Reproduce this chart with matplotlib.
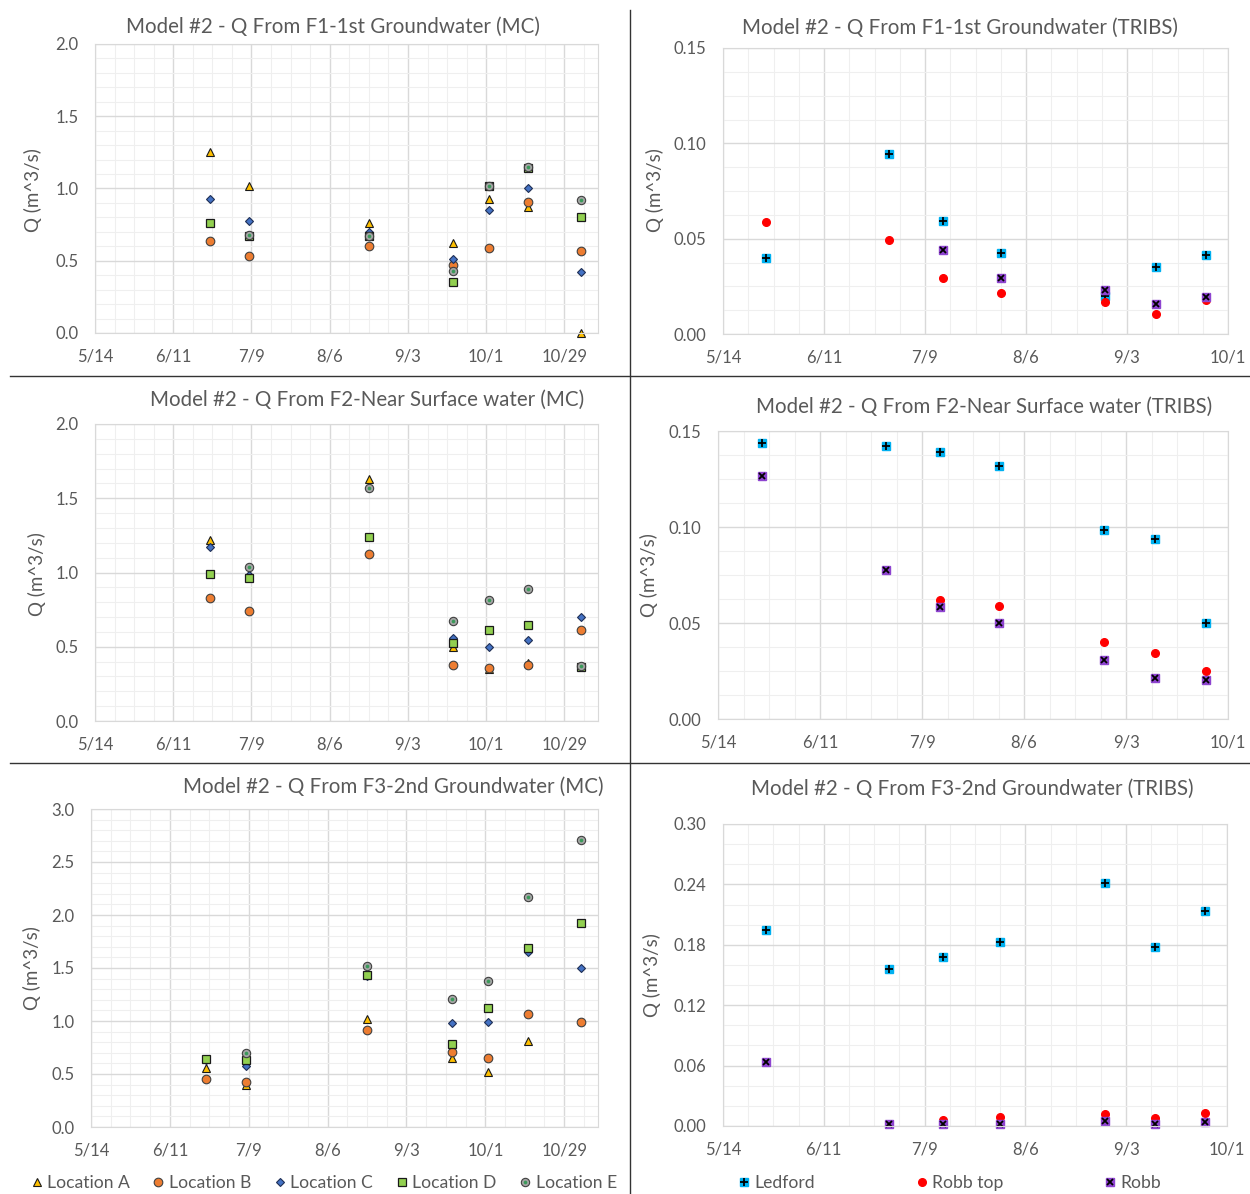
import numpy as np
import matplotlib
matplotlib.use("Agg")
import matplotlib.pyplot as plt
import matplotlib.dates as mdates
from matplotlib.lines import Line2D
from matplotlib.legend_handler import HandlerTuple
from datetime import date, timedelta

plt.rcParams['font.family'] = ['Lato', 'DejaVu Sans']

W, H = 1250, 1194
nan = np.nan

# sample dates (year is arbitrary)
mc_dates = [date(2021, 6, 24), date(2021, 7, 8), date(2021, 8, 20), date(2021, 9, 19),
            date(2021, 10, 2), date(2021, 10, 16), date(2021, 11, 4)]
tr_dates = [date(2021, 5, 26), date(2021, 6, 29), date(2021, 7, 14), date(2021, 7, 30),
            date(2021, 8, 28), date(2021, 9, 11), date(2021, 9, 25)]

mc_names = ['Location A', 'Location B', 'Location C', 'Location D', 'Location E']
tr_names = ['Ledford', 'Robb top', 'Robb']

# F1 - 1st groundwater (MC)
f1_mc_A = [1.25, 1.02, 0.76, 0.62, 0.93, 0.875, 0.0]
f1_mc_B = [0.64, 0.535, 0.605, 0.47, 0.59, 0.91, 0.567]
f1_mc_C = [0.93, 0.775, 0.70, 0.51, 0.85, 1.005, 0.42]
f1_mc_D = [0.76, 0.67, 0.67, 0.35, 1.015, 1.145, 0.80]
f1_mc_E = [nan, 0.675, 0.67, 0.43, 1.02, 1.15, 0.92]
# F2 - near surface water (MC)
f2_mc_A = [1.22, 0.99, 1.63, 0.50, 0.35, 0.39, nan]
f2_mc_B = [0.828, 0.742, 1.124, 0.374, 0.354, 0.374, 0.61]
f2_mc_C = [1.173, 0.98, 1.57, 0.558, 0.50, 0.547, 0.702]
f2_mc_D = [0.99, 0.96, 1.242, 0.525, 0.61, 0.648, 0.367]
f2_mc_E = [nan, 1.04, 1.568, 0.673, 0.812, 0.89, 0.37]
# F3 - 2nd groundwater (MC)
f3_mc_A = [0.555, 0.40, 1.02, 0.65, 0.523, 0.815, nan]
f3_mc_B = [0.451, 0.42, 0.913, 0.704, 0.647, 1.07, 0.99]
f3_mc_C = [0.63, 0.578, 1.42, 0.98, 0.99, 1.655, 1.498]
f3_mc_D = [0.641, 0.628, 1.434, 0.78, 1.123, 1.688, 1.929]
f3_mc_E = [nan, 0.698, 1.522, 1.212, 1.377, 2.17, 2.709]

# TRIBS
f1_tr_ledford = [0.040, 0.0942, 0.0595, 0.0423, 0.0198, 0.0353, 0.0412]
f1_tr_robbtop = [0.0587, 0.0491, 0.0296, 0.0216, 0.0166, 0.0107, 0.0179]
f1_tr_robb = [nan, nan, 0.0442, 0.0296, 0.0233, 0.0156, 0.0193]

f2_tr_ledford = [0.1438, 0.142, 0.1389, 0.1316, 0.0985, 0.0938, 0.0498]
f2_tr_robbtop = [nan, nan, 0.0618, 0.0586, 0.040, 0.0345, 0.0251]
f2_tr_robb = [0.1268, 0.0774, 0.0581, 0.0498, 0.0305, 0.0215, 0.0203]

f3_tr_ledford = [0.195, 0.1556, 0.1675, 0.183, 0.241, 0.1775, 0.2133]
f3_tr_robbtop = [nan, nan, 0.0057, 0.0087, 0.0123, 0.008, 0.013]
f3_tr_robb = [0.0634, 0.0024, 0.0024, 0.0024, 0.005, 0.0024, 0.0037]

GRAY = '#595959'


def rect(l, r, t, b):
    return [l / W, 1 - b / H, (r - l) / W, (b - t) / H]


def style_ax(ax, xmin, xmax, ymax, ymaj, ymin_step, yfmt):
    ax.set_xlim(mdates.date2num(xmin), mdates.date2num(xmax))
    ax.set_ylim(0, ymax)
    ticks = [xmin + timedelta(days=28 * i) for i in range(10) if xmin + timedelta(days=28 * i) <= xmax]
    ax.set_xticks([mdates.date2num(d) for d in ticks])
    ax.set_xticklabels([f"{d.month}/{d.day}" for d in ticks])
    mins = [xmin + timedelta(days=7 * i) for i in range(40) if xmin + timedelta(days=7 * i) <= xmax]
    ax.set_xticks([mdates.date2num(d) for d in mins], minor=True)
    ax.set_yticks(np.arange(0, ymax + 1e-9, ymaj))
    ax.set_yticks(np.arange(0, ymax + 1e-9, ymin_step), minor=True)
    ax.yaxis.set_major_formatter(plt.FormatStrFormatter(yfmt))
    ax.grid(which='major', color='#D9D9D9', lw=1.0)
    ax.grid(which='minor', color='#EFEFEF', lw=0.8)
    ax.set_axisbelow(True)
    for s in ax.spines.values():
        s.set_color('#D9D9D9')
    ax.tick_params(which='both', length=0, colors=GRAY, labelsize=12)
    ax.tick_params(axis='x', pad=11)
    ax.tick_params(axis='y', pad=12)


def mc_panel(ax, A, B, C, D, E):
    x = mdates.date2num(mc_dates)
    kw = dict(ls='none', clip_on=False)
    hs = []
    hs.append(ax.plot(x, A, marker='^', ms=5.6, mfc='#FFC000', mec='#1a1a1a', mew=0.8, **kw)[0])
    hs.append(ax.plot(x, B, marker='o', ms=6.2, mfc='#ED7D31', mec='#404040', mew=0.8, **kw)[0])
    hs.append(ax.plot(x, C, marker='D', ms=4.2, mfc='#4472C4', mec='#1f2f55', mew=0.8, **kw)[0])
    hs.append(ax.plot(x, D, marker='s', ms=6.0, mfc='#92D050', mec='#1a1a1a', mew=0.9, **kw)[0])
    e1 = ax.plot(x, E, marker='o', ms=6.0, mfc='#A5A5A5', mec='#404040', mew=0.8, **kw)[0]
    e2 = ax.plot(x, E, marker='o', ms=2.6, mfc='#3A9A5A', mec='none', **kw)[0]
    hs.append((e1, e2))
    return hs


def tr_panel(ax, led, rtop, robb):
    x = mdates.date2num(tr_dates)
    kw = dict(ls='none', clip_on=False)
    l1 = ax.plot(x, led, marker='s', ms=5.5, mfc='#00B0F0', mec='#00B0F0', **kw)[0]
    l2 = ax.plot(x, led, marker='+', ms=5.5, mec='black', mew=1.3, **kw)[0]
    r = ax.plot(x, rtop, marker='o', ms=5.5, mfc='#FF0000', mec='#FF0000', **kw)[0]
    b1 = ax.plot(x, robb, marker='s', ms=5.5, mfc='#8E44D0', mec='#8E44D0', **kw)[0]
    b2 = ax.plot(x, robb, marker='x', ms=4.5, mec='black', mew=1.3, **kw)[0]
    return [(l1, l2), r, (b1, b2)]


fig = plt.figure(figsize=(W / 100, H / 100), dpi=100)

mc_start, mc_end = date(2021, 5, 14), date(2021, 11, 10)
tr_start, tr_end = date(2021, 5, 14), date(2021, 10, 1)

ax1 = fig.add_axes(rect(95, 598, 44, 333))
style_ax(ax1, mc_start, mc_end, 2.0, 0.5, 0.1, '%.1f')
mc_panel(ax1, f1_mc_A, f1_mc_B, f1_mc_C, f1_mc_D, f1_mc_E)

ax2 = fig.add_axes(rect(95, 598, 424, 721))
style_ax(ax2, mc_start, mc_end, 2.0, 0.5, 0.1, '%.1f')
mc_panel(ax2, f2_mc_A, f2_mc_B, f2_mc_C, f2_mc_D, f2_mc_E)

ax3 = fig.add_axes(rect(91, 598, 809, 1127))
style_ax(ax3, mc_start, mc_end, 3.0, 0.5, 0.1, '%.1f')
mc_handles = mc_panel(ax3, f3_mc_A, f3_mc_B, f3_mc_C, f3_mc_D, f3_mc_E)

ax4 = fig.add_axes(rect(723, 1228, 48, 334))
style_ax(ax4, tr_start, tr_end, 0.15, 0.05, 0.0125, '%.2f')
tr_panel(ax4, f1_tr_ledford, f1_tr_robbtop, f1_tr_robb)

ax5 = fig.add_axes(rect(718, 1228, 431, 719))
style_ax(ax5, tr_start, tr_end, 0.15, 0.05, 0.0125, '%.2f')
tr_panel(ax5, f2_tr_ledford, f2_tr_robbtop, f2_tr_robb)

ax6 = fig.add_axes(rect(723, 1227, 824, 1126))
style_ax(ax6, tr_start, tr_end, 0.30, 0.06, 0.02, '%.2f')
tr_handles = tr_panel(ax6, f3_tr_ledford, f3_tr_robbtop, f3_tr_robb)

titles = [
    ("Model #2 - Q From F1-1st Groundwater (MC)", 333, 27),
    ("Model #2 - Q From F2-Near Surface water (MC)", 367, 400),
    ("Model #2 - Q From F3-2nd Groundwater (MC)", 393, 787),
    ("Model #2 - Q From F1-1st Groundwater (TRIBS)", 960, 28),
    ("Model #2 - Q From F2-Near Surface water (TRIBS)", 984, 407),
    ("Model #2 - Q From F3-2nd Groundwater (TRIBS)", 972, 789),
]
for t, x, y in titles:
    fig.text(x / W, 1 - y / H, t, ha='center', va='center', fontsize=14.8, color=GRAY)

ylabels = [(33, 190), (37, 574), (32, 968), (655, 190), (649, 575), (652, 975)]
for x, y in ylabels:
    fig.text(x / W, 1 - y / H, "Q (m^3/s)", ha='center', va='center', rotation=90,
             fontsize=13.5, color=GRAY)

# panel separators
fig.add_artist(Line2D([630 / W, 630 / W], [0, 1 - 10 / H], color='#333333', lw=1))
for yy in (376, 763):
    fig.add_artist(Line2D([10 / W, 1], [1 - yy / H, 1 - yy / H], color='#333333', lw=1))

hmap = {tuple: HandlerTuple(ndivide=1, pad=0)}
fig.legend(mc_handles, mc_names, loc='center', bbox_to_anchor=(324 / W, 1 - 1183 / H),
           ncol=5, frameon=False, fontsize=12.6, handlelength=0.6, handletextpad=0.3,
           columnspacing=1.33, labelcolor=GRAY, handler_map=hmap)
fig.legend(tr_handles, tr_names, loc='center', bbox_to_anchor=(950 / W, 1 - 1183 / H),
           ncol=3, frameon=False, fontsize=12.6, handlelength=0.6, handletextpad=0.3,
           columnspacing=5.8, labelcolor=GRAY, handler_map=hmap)

fig.savefig('out.png', dpi=100)
